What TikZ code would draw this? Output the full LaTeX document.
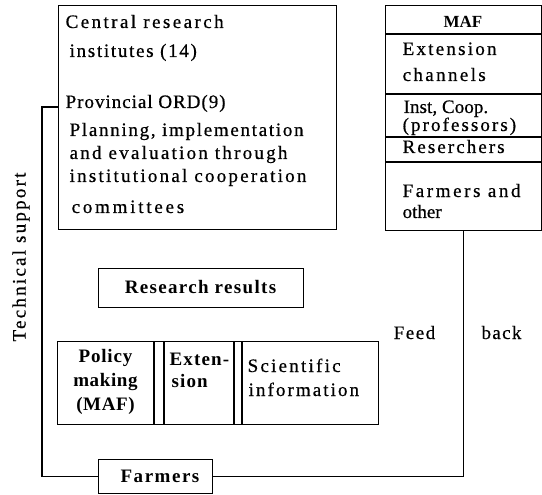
\documentclass[tikz,border=0pt]{standalone}
\usepackage{fontspec}
\setmainfont{Liberation Serif}
% regular (slightly heavy) and bold text at 19pt with a chosen letter spacing
\newcommand\fs[1]{\fontsize{19}{22}\selectfont\addfontfeatures{LetterSpace=#1,FakeBold=0.6}}
\newcommand\fsb[1]{\fontsize{19}{22}\selectfont\bfseries\addfontfeatures{LetterSpace=#1}}
\begin{document}
\begin{tikzpicture}[x=1pt,y=-1pt,line width=1.3pt,
  box/.style={draw,rectangle,inner sep=0pt,anchor=north west},
  txt/.style={anchor=base west,inner sep=0pt},
  ctxt/.style={anchor=base,inner sep=0pt},
]
\useasboundingbox (0,0) rectangle (542,495);

% research organisations
\node[box,minimum width=278pt,minimum height=224pt] (inst) at (58,5) {};
\node[txt,font=\fs{12.8}] (central) at (65,28) {Central research};
\node[txt,font=\fs{9}] (institutes) at (69,57) {institutes (14)};
\node[txt,font=\fs{5.2}] (ord) at (65,108) {Provincial ORD(9)};
\node[txt,font=\fs{9}] (plan1) at (69,136) {Planning, implementation};
\node[txt,font=\fs{11.8}] (plan2) at (69,159) {and evaluation through};
\node[txt,font=\fs{11.8}] (plan3) at (69,182) {institutional cooperation};
\node[txt,font=\fs{14.6}] (plan4) at (71,213) {committees};

% clients of research
\node[box,minimum width=155.5pt,minimum height=225pt] (maf) at (385,5) {};
\foreach \y in {34,94,137,162} \draw (maf.west |- 0,\y) -- (maf.east |- 0,\y);
\node[ctxt,font={\fontsize{17}{18}\selectfont\bfseries}] (mafhead) at (463,28) {MAF};
\node[txt,font=\fs{11.8}] (ext1) at (402,55) {Extension};
\node[txt,font=\fs{12.5}] (ext2) at (402,81) {channels};
\node[txt,font=\fs{0.4}] (coop1) at (403,113) {Inst, Coop.};
\node[txt,font=\fs{10.9}] (coop2) at (402,131) {(professors)};
\node[txt,font=\fs{10.9}] (resch) at (402,153) {Reserchers};
\node[txt,font=\fs{13.7}] (farm1) at (402,197) {Farmers and};
\node[txt,font=\fs{0}] (farm2) at (402,218) {other};

% results and their uses
\node[box,minimum width=205pt,minimum height=39pt] (results) at (98,268) {};
\node[ctxt,font=\fsb{7}] (restxt) at (200.5,294) {Research results};

\node[box,minimum width=321pt,minimum height=83pt] (uses) at (57,341) {};
\foreach \x in {154,164,234,242} \draw (uses.north -| \x,0) -- (uses.south -| \x,0);
\node[ctxt,font=\fsb{4.2}] (pol1) at (105.5,362) {Policy};
\node[ctxt,font=\fsb{3.3}] (pol2) at (105.5,386) {making};
\node[ctxt,font=\fsb{3.3}] (pol3) at (105.5,410) {(MAF)};
\node[txt,font=\fsb{6}] (ext3) at (169,365) {Exten-};
\node[txt,font=\fsb{6}] (ext4) at (171,387) {sion};
\node[txt,font=\fs{11.8}] (sci1) at (247,372) {Scientific};
\node[txt,font=\fs{10.9}] (sci2) at (248,396) {information};

% farmers and the two loops through them
\node[box,minimum width=114pt,minimum height=34pt] (farmers) at (98,459) {};
\node[ctxt,font=\fsb{8}] (farmtxt) at (160,482) {Farmers};

\coordinate (ordjoin) at (58,107);
\coordinate (tsup) at (42,107);
\draw (ordjoin) -- (tsup) |- (farmers.west);
\draw (farmers.east) -| (maf.south);

\node[anchor=center,inner sep=0pt,rotate=90,font=\fs{11.8}] (tech) at (21,257) {Technical support};
\node[ctxt,font=\fs{8}] (feed) at (414.5,339) {Feed};
\node[ctxt,font=\fs{7}] (back) at (501.5,339) {back};
\end{tikzpicture}
\end{document}
